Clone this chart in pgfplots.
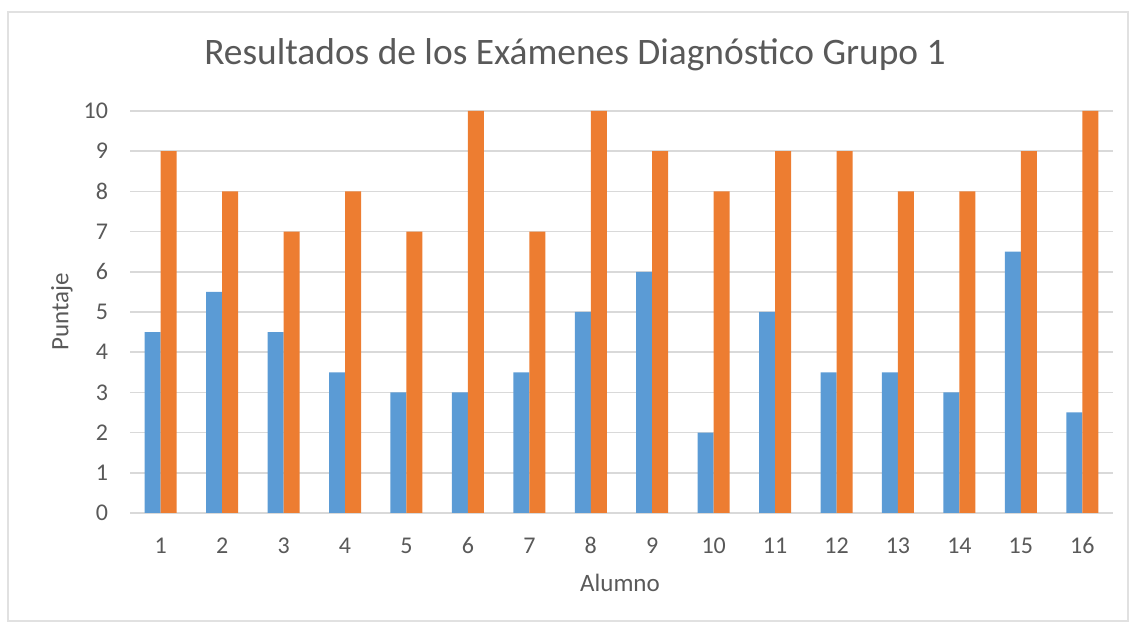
\documentclass[border=0pt]{standalone}
\usepackage{pgfplots}
\pgfplotsset{compat=1.18}
\usepackage{fontspec}
\setmainfont{Carlito}
\definecolor{xlblue}{HTML}{5B9BD5}
\definecolor{xlorange}{HTML}{ED7D31}
\definecolor{xlgrid}{HTML}{D9D9D9}
\definecolor{xltext}{HTML}{595959}
\begin{document}
\begin{tikzpicture}[x=1pt,y=1pt]
\path[use as bounding box] (0,0) rectangle (567,313);
\draw[color=xlgrid!80!white, line width=0.6pt] (4,2.5) rectangle (564,307);
\begin{axis}[
  at={(65pt,56.5pt)}, anchor=south west,
  scale only axis, width=491.5pt, height=201pt,
  ybar=0pt, bar width=8pt,
  xmin=0.5, xmax=16.5, ymin=0, ymax=10,
  xtick={1,...,16}, ytick={0,...,10},
  axis line style={draw=none},
  axis x line*=bottom,
  ymajorgrids, grid style={xlgrid, line width=0.8pt},
  major tick length=0pt,
  tick label style={font=\fontsize{12}{14}\selectfont, text=xltext},
  yticklabel style={xshift=-7.5pt},
  xticklabel style={yshift=-8pt, text height=8.5pt, text depth=0pt, anchor=north},
  /pgf/number format/assume math mode=true,
  clip=false,
]
\addplot[fill=xlblue, draw=none] coordinates {
(1,4.5) (2,5.5) (3,4.5) (4,3.5) (5,3) (6,3) (7,3.5) (8,5) (9,6) (10,2) (11,5) (12,3.5) (13,3.5) (14,3) (15,6.5) (16,2.5)};
\addplot[fill=xlorange, draw=none] coordinates {
(1,9) (2,8) (3,7) (4,8) (5,7) (6,10) (7,7) (8,10) (9,9) (10,8) (11,9) (12,9) (13,8) (14,8) (15,9) (16,10)};
\end{axis}
\node[anchor=base, text=xltext, font=\fontsize{18.7}{22}\selectfont] at (287.5,280.5) {Resultados de los Exámenes Diagnóstico Grupo 1};
\node[rotate=90, text=xltext, font=\fontsize{12.5}{14}\selectfont] at (31,157) {Puntaje};
\node[text=xltext, font=\fontsize{12.5}{14}\selectfont] at (310,21.5) {Alumno};
\end{tikzpicture}
\end{document}
